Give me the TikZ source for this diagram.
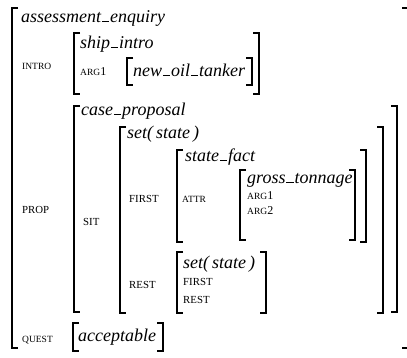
\documentclass[tikz,border=0pt]{standalone}
\usepackage{fontspec}
\setmainfont{Liberation Serif}
\tikzset{
  ty/.style={font=\fontsize{18}{18}\selectfont\itshape, inner sep=0pt, anchor=base west},
  lbs/.style={font=\fontsize{9.5}{9.5}\selectfont, inner sep=0pt, anchor=base west},
  lbb/.style={font=\fontsize{10.8}{10.8}\selectfont, inner sep=0pt, anchor=base west},
  br/.style={line width=1.3pt, line cap=butt, line join=miter}
}
\newcommand\avmbox[4]{%
  \draw[br] (#1+6,#2) -- (#1,#2) -- (#1,#4) -- (#1+6,#4);
  \draw[br] (#3-6,#2) -- (#3,#2) -- (#3,#4) -- (#3-6,#4);}
\newcommand\argl[1]{ARG{\fontsize{12}{12}\selectfont #1}}
\newcommand\us{\kern0.04em\rule[0.01em]{0.42em}{0.055em}\kern0.04em}
\begin{document}
\begin{tikzpicture}[x=1pt,y=-1pt]
\useasboundingbox (0,0) rectangle (407,357);
% outer
\avmbox{12}{8}{408}{348}
\node[ty] (t0) at (21,22) {assessment\us enquiry};
% INTRO
\node[lbs] (lintro) at (22,69) {INTRO};
\avmbox{74}{33}{259}{94}
\node[ty] (t1) at (80,48) {ship\us intro};
\node[lbs] (larg1) at (80,75) {\argl{1}};
\avmbox{127}{58}{252}{85}
\node[ty] (t2) at (133,76) {new\us oil\us tanker};
% PROP
\node[lbb] (lprop) at (22,213) {PROP};
\avmbox{74}{106}{397}{312}
\node[ty] (t3) at (81,115) {case\us proposal};
\node[lbb] (lsit) at (83,225) {SIT};
\avmbox{120}{127}{383}{313}
\node[ty] (t4) at (127,138) {set(\,state\,)};
\node[lbb] (lfirst) at (129,202) {FIRST};
\avmbox{177}{150}{366}{242}
\node[ty] (t5) at (185,161) {state\us fact};
\node[lbs] (lattr) at (182,202) {ATTR};
\avmbox{240}{170}{355}{240}
\node[ty] (t6) at (247,183) {gross\us tonnage};
\node[lbs] (la1) at (247,199) {\argl{1}};
\node[lbs] (la2) at (247,214) {\argl{2}};
\node[lbb] (lrest) at (129,288) {REST};
\avmbox{177}{252}{266}{313}
\node[ty] (t7) at (183,268) {set(\,state\,)};
\node[lbb] (lf2) at (183,285) {FIRST};
\node[lbb] (lr2) at (183,303) {REST};
% QUEST
\node[lbs] (lquest) at (22,342) {QUEST};
\avmbox{73}{323}{163}{351}
\node[ty] (t8) at (78,341) {acceptable};
\end{tikzpicture}
\end{document}
